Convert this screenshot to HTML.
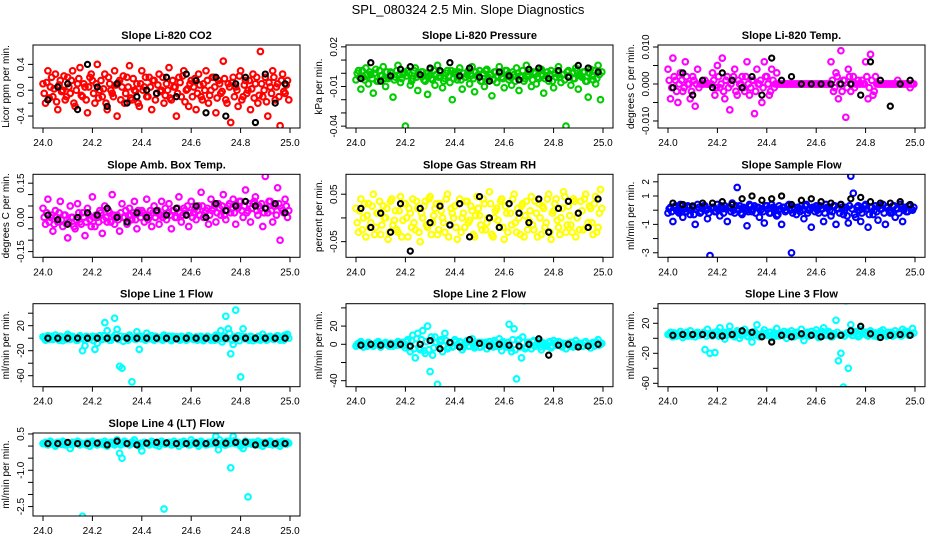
<!DOCTYPE html>
<html><head><meta charset="utf-8"><style>
html,body{margin:0;padding:0;background:#fff}
svg{display:block;font-family:"Liberation Sans",Arial,sans-serif}
</style></head><body>
<svg id="chart" width="936" height="540" viewBox="0 0 936 540" xmlns="http://www.w3.org/2000/svg">
<rect width="936" height="540" fill="#fff"/>
<text x="468" y="14" text-anchor="middle" font-size="13">SPL_080324  2.5 Min. Slope Diagnostics</text>
</svg>
<script>
const times=[24.00,24.01,24.02,24.03,24.04,24.05,24.06,24.07,24.08,24.09,24.10,24.11,24.12,24.13,24.14,24.15,24.16,24.17,24.18,24.19,24.20,24.21,24.22,24.23,24.24,24.25,24.26,24.27,24.28,24.29,24.30,24.31,24.32,24.33,24.34,24.35,24.36,24.37,24.38,24.39,24.40,24.41,24.42,24.43,24.44,24.45,24.46,24.47,24.48,24.49,24.50,24.51,24.52,24.53,24.54,24.55,24.56,24.57,24.58,24.59,24.60,24.61,24.62,24.63,24.64,24.65,24.66,24.67,24.68,24.69,24.70,24.71,24.72,24.73,24.74,24.75,24.76,24.77,24.78,24.79,24.80,24.81,24.82,24.83,24.84,24.85,24.86,24.87,24.88,24.89,24.90,24.91,24.92,24.93,24.94,24.95,24.96,24.97,24.98,24.99];
const timesB=[24.005,24.015,24.025,24.035,24.045,24.055,24.065,24.075,24.085,24.095,24.105,24.115,24.125,24.135,24.145,24.155,24.165,24.175,24.185,24.195,24.205,24.215,24.225,24.235,24.245,24.255,24.265,24.275,24.285,24.295,24.305,24.315,24.325,24.335,24.345,24.355,24.365,24.375,24.385,24.395,24.405,24.415,24.425,24.435,24.445,24.455,24.465,24.475,24.485,24.495,24.505,24.515,24.525,24.535,24.545,24.555,24.565,24.575,24.585,24.595,24.605,24.615,24.625,24.635,24.645,24.655,24.665,24.675,24.685,24.695,24.705,24.715,24.725,24.735,24.745,24.755,24.765,24.775,24.785,24.795,24.805,24.815,24.825,24.835,24.845,24.855,24.865,24.875,24.885,24.895,24.905,24.915,24.925,24.935,24.945,24.955,24.965,24.975,24.985,24.995];
const blackTimes=[24.02,24.06,24.10,24.14,24.18,24.22,24.26,24.30,24.34,24.38,24.42,24.46,24.50,24.54,24.58,24.62,24.66,24.70,24.74,24.78,24.82,24.86,24.90,24.94,24.98];
const xTicks=[24.0,24.2,24.4,24.6,24.8,25.0];
const xTickLabels=["24.0","24.2","24.4","24.6","24.8","25.0"];

const co2Vals=[0.1,-0.2,0.3,0.05,-0.1,0.25,-0.3,0.15,0,-0.15,0.2,-0.05,0.3,-0.25,0.1,0.35,-0.1,0.05,-0.35,0.2,0.15,-0.2,0.4,0,-0.1,0.25,-0.3,0.1,-0.05,0.3,-0.4,0.15,0.05,-0.2,0.2,0.38,-0.15,0,0.1,-0.25,0.3,0.05,-0.1,0.2,-0.3,0.15,-0.05,0.25,0,-0.2,0.1,0.35,-0.15,0.05,-0.4,0.2,-0.1,0.3,0,-0.25,0.15,0.05,-0.3,0.25,-0.1,0.1,0.3,-0.2,0,0.2,-0.35,0.15,-0.05,0.45,-0.15,0.1,-0.5,0.2,0.05,-0.25,0.3,-0.1,0.15,0,-0.3,0.25,0.1,-0.2,0.6,-0.1,0.2,-0.4,0.05,0.3,-0.15,0.1,-0.55,0.25,-0.05,0.15];
const co2ValsB=[-0.05,0.12,-0.12,0.2,0.02,-0.18,0.08,-0.02,0.22,-0.1,0.05,0.15,-0.2,0.0,0.18,-0.08,0.1,-0.15,0.05,0.25,-0.05,0.1,-0.12,0.15,0.02,-0.2,0.2,0.0,-0.1,0.08,0.12,-0.15,0.22,-0.05,0.05,-0.12,0.18,-0.02,-0.2,0.1,0.0,0.2,-0.1,0.05,0.15,-0.15,0.08,-0.02,0.2,-0.08,0.0,-0.12,0.15,0.05,-0.05,0.12,0.22,-0.18,0.02,0.1,-0.1,0.18,-0.05,0.08,-0.15,0.0,0.15,-0.08,0.2,0.05,-0.12,0.1,-0.02,0.18,-0.2,0.05,0.12,-0.1,0.0,0.22,-0.15,0.08,-0.05,0.15,0.02,-0.12,0.2,-0.08,0.1,0.0,-0.18,0.12,-0.05,0.2,0.05,-0.1,0.15,-0.02,0.08,-0.15];
const co2Black=[-0.15,0.05,0.1,-0.3,0.4,0.05,-0.25,0.1,-0.2,-0.1,0,-0.05,0.2,-0.1,0.25,0.15,-0.35,0.2,-0.4,0.1,0.2,-0.5,0.25,-0.2,0.1];
const presVals=[-0.005,0.002,-0.012,-0.003,0.004,-0.008,-0.001,-0.015,0.003,-0.006,-0.002,0.005,-0.01,-0.004,0.001,-0.018,-0.003,0.006,-0.007,-0.001,-0.04,0.002,-0.009,-0.004,0.004,-0.013,-0.002,0.001,-0.006,-0.016,0.003,-0.005,-0.009,0.006,-0.002,-0.011,-0.004,0.002,-0.007,-0.02,0.001,-0.005,0.004,-0.012,-0.003,-0.001,-0.008,0.005,-0.014,-0.002,0.002,-0.006,-0.01,0.003,-0.004,-0.017,0.001,-0.007,0.005,-0.003,-0.011,0.002,-0.005,-0.009,-0.001,0.004,-0.013,-0.003,-0.006,0.006,-0.002,-0.01,0.001,-0.008,-0.004,0.003,-0.015,-0.002,-0.006,0.002,-0.011,-0.003,0.005,-0.007,-0.001,-0.04,0.002,-0.009,-0.004,0.004,-0.012,-0.002,0.001,-0.006,-0.018,0.003,-0.005,-0.008,0.006,-0.02];
const presValsB=[0.0,-0.003,0.002,-0.005,-0.001,0.001,-0.004,0.0,-0.006,0.002,-0.002,-0.004,0.001,-0.003,0.0,-0.005,0.002,-0.001,-0.004,0.001,-0.002,0.0,-0.006,0.002,-0.003,-0.001,0.001,-0.005,0.0,-0.002,-0.004,0.002,-0.001,-0.003,0.001,-0.006,0.0,-0.002,0.002,-0.004,-0.001,0.001,-0.005,0.0,-0.003,0.002,-0.002,-0.004,0.001,-0.001,-0.006,0.0,0.002,-0.003,-0.001,-0.005,0.001,-0.002,0.0,-0.004,0.002,-0.001,-0.003,0.001,-0.006,0.0,-0.002,0.002,-0.004,-0.001,0.001,-0.005,0.0,-0.003,0.002,-0.002,-0.004,0.001,-0.001,-0.006,0.0,0.002,-0.003,-0.001,-0.005,0.001,-0.002,0.0,-0.004,0.002,-0.001,-0.003,0.001,-0.006,0.0,-0.002,0.002,-0.004,-0.001,0.001];
const presBlack=[-0.004,0.008,-0.006,-0.002,0.003,0.005,-0.001,0.004,0.002,0.008,-0.002,0.004,-0.003,-0.006,0.001,-0.002,-0.005,0.003,0.004,-0.004,0.002,-0.003,0.006,0.004,0.001];
const tempVals=[0.004,-0.004,0.007,0.001,-0.005,0.003,-0.002,0.006,0.0,-0.004,0.002,-0.006,0.004,0.0,0.0,0.001,0.0,0.0,0.003,-0.003,0.005,-0.001,0.007,-0.004,0.002,-0.007,0.001,0.004,-0.003,0.0,0.002,-0.002,0.006,-0.003,0.001,-0.008,0.004,0.0,-0.005,0.006,0.002,-0.003,0.004,-0.001,0.003,0.0,0.0,0.0,0.0,0.0,0.0,0.0,0.0,0.0,0.0,0.0,0.0,0.0,0.0,0.0,0.0,0.0,0.0,0.0,0.0,0.0,0.006,-0.002,0.003,-0.004,0.009,0.001,-0.009,0.004,-0.002,0.002,0.0,0.001,0.0,0.0,0.006,-0.004,0.008,-0.003,0.002,0.0,0.0,0.0,0.0,0.0,0.0,0.0,0.0,0.001,0.0,0.0,0.0,0.0,-0.001,0.0];
const tempValsB=[0.001,-0.001,0.002,-0.002,0.0,0.001,-0.001,0.002,0.0,-0.002,0.001,0.0,-0.001,0.0,0.0,0.0,0.0,0.0,0.001,-0.001,0.002,0.0,-0.002,0.001,-0.001,0.0,0.002,-0.002,0.001,0.0,-0.001,0.002,0.0,-0.001,0.001,-0.002,0.0,0.001,-0.001,0.002,0.0,-0.002,0.001,0.0,0.0,0.0,0.0,0.0,0.0,0.0,0.0,0.0,0.0,0.0,0.0,0.0,0.0,0.0,0.0,0.0,0.0,0.0,0.0,0.0,0.0,0.0,0.001,-0.001,0.002,0.0,-0.002,0.001,-0.001,0.002,0.0,-0.001,0.0,0.0,0.001,0.0,0.002,-0.001,0.001,-0.002,0.0,0.0,0.0,0.0,0.0,0.0,0.0,0.0,0.0,0.0,0.0,0.0,0.0,0.0,0.0,0.0];
const tempBlack=[-0.001,0.003,-0.003,0.001,-0.001,0.003,0.001,-0.001,0.002,-0.003,0.007,0.001,0.002,0.0,0.0,0.0,0.0,0.0,0.0,-0.003,0.006,0.001,-0.006,0.0,0.001];
const ambVals=[0.04,-0.03,0.08,0.0,-0.06,0.03,-0.02,0.07,-0.04,0.01,-0.09,0.05,0.0,-0.05,0.06,-0.02,0.02,-0.08,0.04,-0.01,0.09,-0.04,0.0,0.03,-0.07,0.05,-0.02,0.02,0.1,-0.03,0.01,-0.06,0.06,0.0,-0.03,0.04,-0.01,0.07,-0.05,0.02,0.03,-0.02,0.08,0.0,-0.04,0.05,0.02,-0.03,0.07,0.01,-0.01,0.06,-0.05,0.03,0.0,0.09,-0.02,0.04,0.01,-0.04,0.07,0.02,-0.01,0.05,0.11,0.0,0.03,-0.03,0.08,0.04,-0.02,0.06,0.01,0.1,-0.01,0.05,0.02,0.08,-0.03,0.04,0.07,0.0,0.12,0.03,-0.02,0.06,0.09,0.01,0.04,-0.04,0.18,0.02,0.07,-0.02,0.05,0.13,-0.1,0.03,0.08,0.0];
const ambValsB=[0.0,0.02,-0.02,0.01,-0.03,0.0,0.02,-0.01,0.01,-0.03,-0.02,0.0,-0.04,-0.01,0.02,-0.03,0.0,-0.02,0.01,-0.04,0.0,0.01,-0.02,0.02,-0.01,0.0,0.03,-0.02,0.01,0.0,-0.01,0.02,0.0,0.03,-0.02,0.01,0.02,-0.01,0.03,0.0,0.02,0.01,-0.01,0.03,0.02,0.0,0.03,0.01,0.0,0.04,0.02,0.01,0.03,0.0,0.04,0.02,0.01,0.03,0.05,0.02,0.0,0.04,0.03,0.01,0.05,0.02,0.04,0.01,0.03,0.06,0.02,0.04,0.05,0.01,0.03,0.06,0.04,0.02,0.05,0.07,0.03,0.05,0.02,0.06,0.04,0.07,0.03,0.05,0.06,0.02,0.04,0.07,0.03,0.05,0.01,0.06,0.04,0.02,0.05,0.03];
const ambBlack=[0.01,-0.01,-0.03,0.0,0.02,0.01,0.04,0.0,-0.02,0.02,0.0,0.03,0.01,0.04,0.01,0.05,0.0,0.06,0.03,0.05,0.07,0.05,0.04,0.06,0.02];
const rhVals=[0.02,-0.03,0.04,0.0,-0.04,0.03,-0.01,0.05,-0.02,0.01,-0.035,0.025,0.0,-0.045,0.035,-0.015,0.015,-0.03,0.045,-0.005,0.03,-0.04,0.01,0.04,-0.025,0.02,-0.05,0.0,0.035,-0.02,0.045,-0.01,0.02,-0.035,0.03,0.0,-0.03,0.05,-0.015,0.01,0.025,-0.045,0.04,0.0,-0.02,0.035,-0.005,0.015,-0.04,0.045,0.005,-0.025,0.03,-0.01,0.055,-0.035,0.0,0.02,-0.02,0.04,-0.045,0.01,0.03,-0.015,0.05,-0.03,0.0,0.025,-0.04,0.035,-0.005,0.045,-0.025,0.01,0.03,-0.035,0.02,-0.01,0.05,-0.045,0.015,0.04,-0.02,0.0,0.055,-0.03,0.025,-0.015,0.04,-0.04,0.01,0.035,-0.025,0.05,-0.01,0.02,-0.035,0.045,-0.02,0.06];
const rhValsB=[-0.01,0.015,-0.025,0.03,0.005,-0.02,0.025,-0.035,0.01,0.035,-0.015,0.0,0.02,-0.03,0.04,-0.005,-0.025,0.015,-0.04,0.03,0.0,0.02,-0.02,-0.01,0.035,-0.03,0.01,0.025,-0.015,0.04,-0.035,0.005,0.03,-0.025,0.015,-0.01,0.04,-0.04,0.02,0.0,-0.02,0.03,-0.03,0.01,0.035,-0.01,0.025,-0.035,0.005,0.02,-0.015,0.04,-0.025,0.0,0.03,-0.04,0.015,-0.005,0.035,-0.02,0.025,-0.03,0.01,0.04,-0.01,0.02,-0.035,0.03,0.005,-0.025,0.015,-0.015,0.035,-0.04,0.0,0.025,-0.02,0.04,-0.03,0.01,0.03,-0.005,-0.035,0.02,0.045,-0.015,0.005,-0.03,0.035,0.0,-0.025,0.015,0.04,-0.02,0.025,-0.01,0.03,-0.03,0.01,0.02];
const rhBlack=[0.02,-0.02,0.01,-0.03,0.03,-0.07,0.02,-0.01,0.025,-0.015,0.03,-0.04,0.045,0.0,-0.02,0.03,0.01,-0.01,0.04,-0.03,0.02,0.035,0.01,-0.02,0.04];
const sampleVals=[-0.2,0.2,-0.8,0.3,-0.1,0.4,-0.5,0.1,0.3,-0.3,0.2,-1.0,0.4,-0.2,0.1,0.3,-0.6,-3.2,0.2,-0.1,0.4,-0.4,0.1,0.3,-0.8,0.2,0.5,-0.2,1.6,0.3,-0.3,0.1,-1.1,0.4,-0.1,0.3,0.2,-0.5,0.1,-0.9,0.3,-0.2,0.4,0.1,-0.4,0.3,-1.0,0.2,0.0,0.4,-3.0,0.2,-0.3,0.1,0.3,-0.6,0.4,0.0,-1.2,0.2,0.3,-0.2,0.1,-0.8,0.4,0.2,-0.4,0.3,-1.0,0.1,0.4,-0.3,0.2,-0.9,2.4,1.2,-0.5,0.3,-0.8,0.1,0.4,-1.2,0.2,-0.3,0.3,-0.7,0.1,0.4,-1.0,0.2,-0.2,0.3,-0.5,0.1,0.4,-0.8,0.2,-0.1,0.3,0.0];
const sampleValsB=[0.1,-0.1,0.2,0.0,-0.2,0.3,0.1,-0.1,0.2,0.0,-0.3,0.1,0.2,-0.1,0.3,0.0,-0.2,0.1,0.2,-0.1,0.0,0.3,-0.2,0.1,0.2,-0.1,0.0,0.3,0.1,-0.2,0.2,0.0,-0.1,0.3,0.1,-0.2,0.2,0.0,-0.1,0.3,0.1,-0.2,0.2,0.0,-0.3,0.1,0.2,-0.1,0.3,0.0,-0.2,0.1,0.2,-0.1,0.0,0.3,-0.2,0.1,0.2,-0.1,0.0,0.3,0.1,-0.2,0.2,0.0,-0.1,0.3,0.1,-0.2,0.2,0.0,-0.4,0.3,0.1,-0.3,0.2,0.0,-0.2,0.3,0.1,-0.3,0.2,0.0,-0.1,0.3,0.1,-0.2,0.2,0.0,-0.1,0.3,0.1,-0.2,0.2,0.0,-0.1,0.3,0.1,0.2];
const sampleBlack=[0.5,0.4,0.3,0.5,0.5,0.6,0.4,0.8,1.0,0.7,0.8,1.0,0.4,0.7,0.8,0.6,0.5,0.4,0.8,0.9,0.6,0.5,0.5,0.6,0.4];
const line1Vals=[2,-3,4,0,-2,5,-1,3,-4,1,6,-2,3,0,-3,4,-20,-12,2,-1,3,-18,-8,4,-2,25,12,-3,1,32,14,-45,-48,2,-1,5,-70,0,10,-18,3,-2,8,-1,4,-3,2,0,-2,5,-1,3,-4,1,2,-2,3,0,-3,4,1,-2,2,-1,3,-4,0,2,-3,1,5,-2,12,-1,35,15,-25,-10,45,4,-62,15,2,-1,3,-4,0,2,-3,6,1,-2,3,-1,0,4,-3,2,5,6];
const line1ValsB=[0,2,-2,3,-1,1,-3,2,0,-2,3,-1,1,-3,2,0,-2,3,-1,1,-4,2,0,-2,4,-1,1,-3,2,6,-2,3,-5,1,-3,2,0,-2,3,-1,1,-3,2,0,-2,3,-1,1,-3,2,0,-2,3,-1,1,-3,2,0,-2,3,-1,1,-3,2,0,-2,3,-1,1,-3,2,0,-6,3,-1,8,-3,2,0,-4,3,-1,1,-3,2,0,-2,3,-1,1,-3,2,0,-2,3,-1,1,-3,2,0];
const line1Black=[0,0,0,0,0,0,0,0,0,0,0,0,0,-1,0,0,0,0,0,0,0,0,0,0,0];
const line2Vals=[-2,1,3,-3,0,2,-1,-2,1,3,-3,0,2,-1,1,-2,0,3,-1,2,-4,5,-8,10,-15,12,-6,15,-10,20,-30,-12,8,-44,3,-8,12,-5,2,-3,5,-1,3,-6,0,4,-2,6,-4,1,-3,2,0,-5,3,-1,4,-2,6,-7,1,-3,22,-8,17,-38,5,-15,48,-3,2,-5,4,-1,3,-6,0,-2,2,-4,4,-1,3,-2,1,-5,0,2,-3,4,-1,1,-2,3,0,-4,2,-1,5,0];
const line2ValsB=[0,-1,1,0,-2,1,0,-1,2,0,-1,1,0,-2,1,0,-1,2,0,-1,3,-3,4,-5,6,-4,5,-7,3,-6,8,-4,2,-3,5,-2,4,-3,1,-2,3,-1,2,-3,1,-2,3,0,-2,2,-3,1,2,-1,0,-3,2,1,-2,3,-1,2,-4,5,-6,4,-3,8,-5,2,-1,3,-2,1,-3,2,0,-1,3,-2,1,-1,2,-3,0,1,-2,2,-1,0,1,-2,2,-1,0,1,-2,2,-1,1];
const line2Black=[-1,0,-1,0,0,-2,0,4,-5,2,-3,5,1,-2,0,-1,-2,0,6,-12,-1,0,-3,-2,0];
const line3Vals=[5,8,2,6,4,9,1,7,3,10,5,2,8,4,6,-15,12,-20,3,-19,9,14,5,-1,8,16,4,2,10,0,6,12,3,7,-5,9,18,2,6,11,4,8,1,7,13,3,6,9,0,5,10,2,8,4,12,-3,7,3,9,5,11,1,8,14,4,9,2,6,24,-30,-20,-65,50,-40,18,4,9,2,12,6,8,3,10,5,7,2,9,11,4,8,6,3,10,5,7,12,9,8,6,13];
const line3ValsB=[6,4,7,3,5,6,4,8,5,3,6,7,4,5,8,3,6,4,7,5,3,6,8,4,5,7,3,6,9,4,5,7,2,6,8,4,5,3,7,6,4,8,5,3,6,7,4,5,8,3,6,4,7,5,3,6,8,4,5,7,3,6,9,4,5,7,2,6,8,4,5,3,7,6,4,8,5,3,6,7,4,5,8,3,6,4,7,5,3,6,8,4,5,7,3,6,9,4,5,7];
const line3Black=[4,5,5,5,4,3,5,10,8,2,-5,4,2,6,4,2,3,4,10,16,6,1,4,5,4];
const line4Vals=[0.1,0.15,0.05,0.2,0.1,0.0,0.15,0.1,0.2,0.05,0.1,-0.1,0.15,0.1,0.2,0.05,-2.9,0.1,0.15,0.0,0.2,0.1,0.05,0.15,0.1,0.2,0.0,0.1,0.15,0.05,0.25,-0.3,-0.5,0.2,0.1,0.05,0.15,0.25,0.1,0.0,-0.2,0.15,0.1,0.05,0.2,0.15,0.1,0.0,0.2,-2.6,0.1,0.15,0.05,0.2,0.1,0.0,0.15,0.2,0.1,0.05,0.25,0.1,0.15,0.0,0.2,0.1,0.05,0.15,0.1,0.2,0.4,-0.15,0.1,0.15,0.05,0.2,-0.9,0.4,0.1,0.15,0.0,-0.1,0.2,-2.1,0.1,0.15,0.05,0.2,0.1,0.0,0.15,0.1,0.2,0.05,0.1,0.15,0.0,0.2,0.1,0.15];
const line4ValsB=[0.12,0.08,0.15,0.1,0.05,0.13,0.1,0.07,0.15,0.1,0.12,0.06,0.1,0.14,0.08,0.12,0.1,0.05,0.15,0.1,0.12,0.08,0.14,0.1,0.06,0.12,0.1,0.15,0.08,0.12,0.1,0.05,0.14,0.1,0.12,0.08,0.15,0.1,0.06,0.12,0.1,0.14,0.08,0.12,0.1,0.05,0.15,0.1,0.12,0.08,0.14,0.1,0.06,0.12,0.1,0.15,0.08,0.12,0.1,0.05,0.14,0.1,0.12,0.08,0.15,0.1,0.06,0.12,0.1,0.2,0.08,0.25,0.1,0.05,0.2,0.1,0.12,0.22,0.14,0.1,0.06,0.12,0.1,0.15,0.08,0.12,0.1,0.05,0.14,0.1,0.12,0.08,0.15,0.1,0.06,0.12,0.1,0.14,0.08,0.12];
const line4Black=[0.1,0.1,0.15,0.1,0.1,0.12,0.05,0.2,0.1,0.05,0.12,0.15,0.13,0.1,0.1,0.12,0.1,0.14,0.12,0.15,0.16,0.05,0.12,0.1,0.1];

const panels=[
 {name:"co2",title:"Slope Li-820 CO2",yl:"Licor ppm per min.",col:0,row:0,lo:-0.585,hi:0.70,color:"#ff0000",vals:co2Vals,valsB:co2ValsB,blk:co2Black,ticks:[-0.4,-0.2,0,0.2,0.4],labels:[[-0.4,"-0.4"],[0,"0.0"],[0.4,"0.4"]]},
 {name:"pressure",title:"Slope Li-820 Pressure",yl:"kPa per min.",col:1,row:0,lo:-0.0414,hi:0.0214,color:"#00cc00",vals:presVals,valsB:presValsB,blk:presBlack,ticks:[-0.04,-0.03,-0.02,-0.01,0,0.01,0.02],labels:[[-0.04,"-0.04"],[-0.01,"-0.01"],[0.02,"0.02"]]},
 {name:"temp",title:"Slope Li-820 Temp.",yl:"degrees C per min.",col:2,row:0,lo:-0.0119,hi:0.01054,color:"#ff00ff",vals:tempVals,valsB:tempValsB,blk:tempBlack,ticks:[-0.01,-0.005,0,0.005,0.01],labels:[[-0.01,"-0.010"],[0,"0.000"],[0.01,"0.010"]]},
 {name:"amb-box-temp",title:"Slope Amb. Box Temp.",yl:"degrees C per min.",col:0,row:1,lo:-0.175,hi:0.189,color:"#ff00ff",vals:ambVals,valsB:ambValsB,blk:ambBlack,ticks:[-0.15,-0.1,-0.05,0,0.05,0.1,0.15],labels:[[-0.15,"-0.15"],[0,"0.00"],[0.15,"0.15"]]},
 {name:"gas-rh",title:"Slope Gas Stream RH",yl:"percent per min.",col:1,row:1,lo:-0.083,hi:0.092,color:"#ffff00",vals:rhVals,valsB:rhValsB,blk:rhBlack,ticks:[-0.05,0,0.05],labels:[[-0.05,"-0.05"],[0.05,"0.05"]]},
 {name:"sample-flow",title:"Slope Sample Flow",yl:"ml/min per min.",col:2,row:1,lo:-3.32,hi:2.53,color:"#0000ff",vals:sampleVals,valsB:sampleValsB,blk:sampleBlack,ticks:[-3,-2,-1,0,1,2],labels:[[-3,"-3"],[-1,"-1"],[1,"1"],[2,"2"]]},
 {name:"line1-flow",title:"Slope Line 1 Flow",yl:"ml/min per min.",col:0,row:2,lo:-77.6,hi:55.2,color:"#00ffff",vals:line1Vals,valsB:line1ValsB,blk:line1Black,ticks:[-60,-40,-20,0,20,40],labels:[[-60,"-60"],[-20,"-20"],[20,"20"]]},
 {name:"line2-flow",title:"Slope Line 2 Flow",yl:"ml/min per min.",col:1,row:2,lo:-46.6,hi:44.6,color:"#00ffff",vals:line2Vals,valsB:line2ValsB,blk:line2Black,ticks:[-40,-20,0,20,40],labels:[[-40,"-40"],[0,"0"],[20,"20"]]},
 {name:"line3-flow",title:"Slope Line 3 Flow",yl:"ml/min per min.",col:2,row:2,lo:-64.5,hi:46.1,color:"#00ffff",vals:line3Vals,valsB:line3ValsB,blk:line3Black,ticks:[-60,-40,-20,0,20,40],labels:[[-60,"-60"],[-20,"-20"],[20,"20"]]},
 {name:"line4-flow",title:"Slope Line 4 (LT) Flow",yl:"ml/min per min.",col:0,row:3,lo:-2.89,hi:0.54,color:"#00ffff",vals:line4Vals,valsB:line4ValsB,blk:line4Black,ticks:[-2.5,-2,-1.5,-1,-0.5,0,0.5],labels:[[-2.5,"-2.5"],[-1,"-1.0"],[0.5,"0.5"]]}
];
const colLeft=[33,346,658], boxW=267;
const rowTop=[45,174.3,303.7,433], boxH=83;
const NS="http://www.w3.org/2000/svg";
const svg=document.getElementById("chart");
function mk(tag,attrs,parent){const e=document.createElementNS(NS,tag);for(const k in attrs)e.setAttribute(k,attrs[k]);(parent||svg).appendChild(e);return e;}
panels.forEach(p=>{
  const L=colLeft[p.col],T=rowTop[p.row],B=T+boxH;
  const g=mk("g",{});
  
  
  const xs=v=>L+10+(v-24)*247;
  const ys=v=>B-(v-p.lo)/(p.hi-p.lo)*boxH;
  const clip=mk("clipPath",{id:"c-"+p.name},g);
  mk("rect",{x:L,y:T,width:boxW,height:boxH},clip);
  const t=mk("text",{x:L+boxW/2,y:T-6,"text-anchor":"middle","font-size":"11","font-weight":"bold"},g);
  t.textContent=p.title;
  
  
  const pts=mk("g",{"clip-path":"url(#c-"+p.name+")",fill:"none","stroke-width":"2.1"},g);
  
  
  p.vals.forEach((v,i)=>{
    const c=mk("circle",{cx:xs(times[i%times.length]).toFixed(1),cy:ys(v).toFixed(1),r:2.8,stroke:p.color},pts);
    
    
  });
  p.valsB.forEach((v,i)=>{
    const c=mk("circle",{cx:xs(timesB[i%timesB.length]).toFixed(1),cy:ys(v).toFixed(1),r:2.8,stroke:p.color},pts);
    
    
  });
  p.blk.forEach((v,i)=>{
    const c=mk("circle",{cx:xs(blackTimes[i%blackTimes.length]).toFixed(1),cy:ys(v).toFixed(1),r:2.6,stroke:"#000"},pts);
    
    
  });
  const box=mk("rect",{x:L,y:T,width:boxW,height:boxH,fill:"none",stroke:"#000","stroke-width":"1"},g);
  
  
  const ax=mk("g",{stroke:"#000","stroke-width":"1"},g);
  
  
  mk("line",{x1:xs(24),x2:xs(25),y1:B,y2:B},ax);
  xTicks.forEach((v,i)=>{
    mk("line",{x1:xs(v),x2:xs(v),y1:B,y2:B+5},ax);
    const tl=mk("text",{x:xs(v),y:B+18,"text-anchor":"middle","font-size":"10",stroke:"none",fill:"#000"},g);
    tl.textContent=xTickLabels[i];
    
    
  });
  const ay=mk("g",{stroke:"#000","stroke-width":"1"},g);
  
  
  p.ticks.forEach(v=>{mk("line",{x1:L-5,x2:L,y1:ys(v),y2:ys(v)},ay);});
  p.labels.forEach(([v,s])=>{
    const y=ys(v);
    const tl=mk("text",{x:L-9,y:y,"text-anchor":"middle","font-size":"10",transform:`rotate(-90 ${L-9} ${y})`},g);
    tl.textContent=s;
    
    
  });
  const yt=mk("text",{x:L-24,y:T+boxH/2,"text-anchor":"middle","font-size":"10",transform:`rotate(-90 ${L-24} ${T+boxH/2})`},g);
  yt.textContent=p.yl;
  
  
});
</script>
</body></html>
